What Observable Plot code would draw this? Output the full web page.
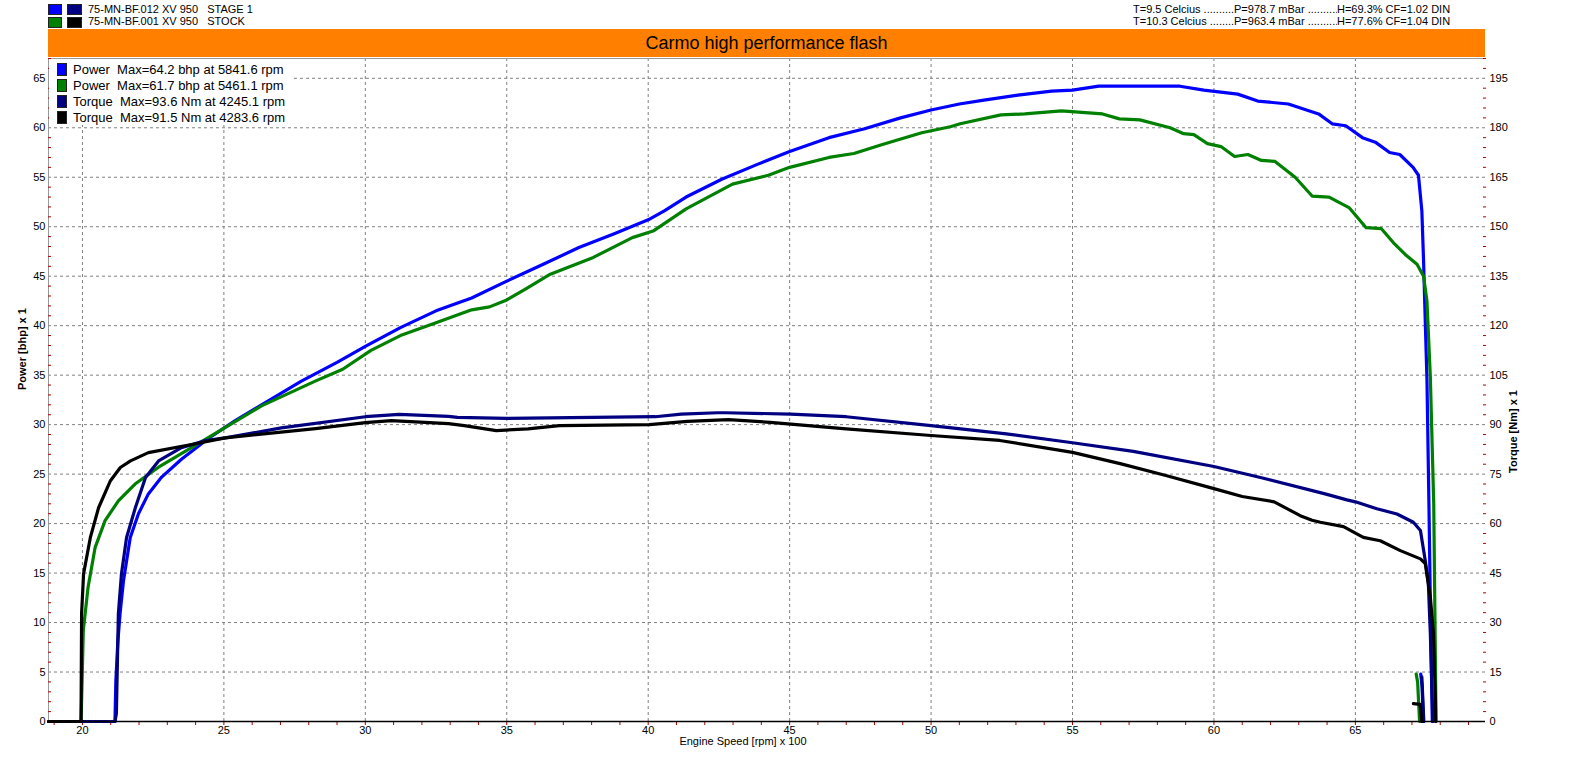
<!DOCTYPE html>
<html>
<head>
<meta charset="utf-8">
<script src="https://cdn.jsdelivr.net/npm/d3@7"></script>
<script src="https://cdn.jsdelivr.net/npm/@observablehq/plot@0.6"></script>
<style>
  html, body { margin: 0; padding: 0; background: #fff; }
  body { width: 1580px; height: 768px; position: relative; overflow: hidden; font-family: "Liberation Sans", Arial, sans-serif; }
  .abs { position: absolute; white-space: pre; color: #000; }
  .sq { position: absolute; box-sizing: border-box; border: 1px solid #222; }
  #chart { position: absolute; left: 0; top: 0; }
</style>
</head>
<body>
<div id="chart"></div>
<div id="overlay"></div>
<script>
// ---------- data (engine speed in rpm x 100) ----------
const rpmStagePower = [18.8, 21.15, 21.18, 21.25, 21.33, 21.45, 21.69, 21.98, 22.33, 22.8, 23.5, 24.45, 25.4, 26.57, 27.74, 29.0, 30.0, 31.24, 32.5, 33.76, 35.0, 36.29, 37.55, 38.8, 40.0, 40.57, 41.34, 42.6, 43.86, 45.0, 46.39, 47.65, 48.92, 50.0, 51.0, 51.87, 53.07, 54.26, 55.0, 55.93, 57.85, 58.8, 59.64, 60.84, 61.55, 62.63, 63.7, 64.18, 64.66, 65.25, 65.73, 66.21, 66.57, 67.04, 67.23, 67.35, 67.41, 67.47, 67.53, 67.6, 67.66, 67.72];
const stagePower    = [0, 0, 4, 8, 10.9, 14.2, 18.6, 21.0, 23.0, 24.7, 26.5, 28.6, 30.4, 32.4, 34.4, 36.3, 37.9, 39.8, 41.5, 42.8, 44.5, 46.2, 47.9, 49.3, 50.7, 51.6, 53.0, 54.8, 56.3, 57.6, 59.0, 59.9, 61.0, 61.8, 62.4, 62.8, 63.3, 63.7, 63.8, 64.2, 64.2, 64.2, 63.8, 63.4, 62.7, 62.4, 61.4, 60.4, 60.2, 59.0, 58.5, 57.5, 57.3, 56.0, 55.2, 51.6, 46.6, 40.5, 34.6, 22, 10, 0];

const rpmStockPower = [18.8, 19.95, 19.97, 20.03, 20.2, 20.45, 20.8, 21.27, 21.86, 22.69, 23.75, 25.04, 26.33, 28.23, 29.2, 30.2, 31.24, 32.5, 33.76, 34.39, 35.0, 35.66, 36.54, 38.06, 39.44, 40.2, 41.34, 42.98, 44.25, 45.0, 46.39, 47.27, 48.28, 49.67, 50.68, 51.03, 52.47, 53.31, 54.61, 56.06, 56.66, 57.38, 58.45, 58.93, 59.29, 59.77, 60.25, 60.73, 61.2, 61.68, 62.16, 62.87, 63.47, 64.07, 64.79, 65.38, 65.92, 66.34, 66.76, 67.18, 67.41, 67.53, 67.65, 67.77, 67.83, 67.85];
const stockPower    = [0, 0, 2.1, 9.2, 13.6, 17.6, 20.3, 22.3, 24.0, 25.7, 27.5, 29.7, 31.9, 34.4, 35.6, 37.5, 39.0, 40.3, 41.6, 41.9, 42.6, 43.7, 45.2, 46.9, 48.9, 49.6, 51.8, 54.3, 55.2, 56.0, 57.0, 57.4, 58.3, 59.5, 60.1, 60.4, 61.3, 61.4, 61.7, 61.4, 60.9, 60.8, 60.0, 59.4, 59.3, 58.4, 58.1, 57.1, 57.3, 56.7, 56.6, 55.0, 53.1, 53.0, 51.9, 49.9, 49.8, 48.4, 47.2, 46.2, 45.0, 42.5, 34.8, 22, 6, 0];

const rpmStageTorque = [18.8, 21.15, 21.2, 21.27, 21.38, 21.56, 21.87, 22.23, 22.69, 23.5, 24.35, 25.05, 27.03, 30.0, 31.2, 32.94, 33.26, 35.0, 40.25, 41.17, 42.45, 42.73, 45.03, 47.0, 50.0, 52.66, 55.0, 57.15, 60.0, 61.68, 63.93, 64.7, 65.0, 65.76, 66.47, 67.05, 67.3, 67.47, 67.58, 67.65, 67.7, 67.74];
const stageTorque    = [0, 0, 2.4, 32.7, 44.8, 55.8, 64.8, 74, 79, 83, 85.2, 86, 89, 92.4, 93.1, 92.5, 92.2, 91.9, 92.4, 93.2, 93.6, 93.6, 93.2, 92.4, 89.7, 87.2, 84.5, 81.9, 77.3, 73.9, 69, 67.2, 66.6, 64.5, 62.9, 60.4, 57.9, 48.8, 41.8, 26.7, 11.5, 0];

const rpmStockTorque = [18.8, 19.95, 19.97, 20.04, 20.28, 20.57, 20.99, 21.34, 21.7, 22.33, 24.0, 25.05, 28.24, 30.0, 30.92, 32.94, 33.5, 34.63, 35.75, 36.86, 40.04, 41.39, 42.84, 44.32, 47.0, 50.0, 52.43, 55.0, 56.72, 58.3, 60.0, 61.0, 62.13, 63.05, 63.47, 63.76, 64.58, 65.28, 65.88, 66.59, 67.3, 67.47, 67.65, 67.76, 67.83, 67.84];
const stockTorque    = [0, 0, 32.7, 44.8, 55.8, 64.8, 73, 77, 79, 81.5, 84.2, 86, 88.8, 90.6, 91.2, 90.3, 89.7, 88.2, 88.7, 89.7, 90.0, 91.0, 91.5, 90.7, 88.7, 86.7, 85.2, 81.6, 78.1, 74.6, 70.6, 68.2, 66.6, 62.4, 61.0, 60.4, 59.1, 55.8, 54.8, 51.8, 49.3, 47.9, 37.7, 26.7, 6.4, 0];

// small run-down tails near 6700 rpm
const rpmStockPowerTail = [67.15, 67.2, 67.27];
const stockPowerTail    = [4.8, 4.0, 0];
const rpmStagePowerTail = [67.31, 67.36, 67.4];
const stagePowerTail    = [4.8, 3.5, 0];
const rpmStageTorqueTail = [67.35, 67.42];
const stageTorqueTail    = [13.5, 0];
const rpmStockTorqueTail = [67.05, 67.29, 67.35];
const stockTorqueTail    = [5.4, 5.2, 0];

// axis ticks
const rpmTicks = [20, 25, 30, 35, 40, 45, 50, 55, 60, 65];
const rpmMinorTicks = d3.range(19, 70);
const powerTicks = [0, 5, 10, 15, 20, 25, 30, 35, 40, 45, 50, 55, 60, 65];
const powerMinorTicks = d3.range(1, 68).filter(d => d % 5 !== 0);
const torqueTicks = [0, 15, 30, 45, 60, 75, 90, 105, 120, 135, 150, 165, 180, 195];

// texts
const runs = [
  {file: "75-MN-BF.012 XV 950   STAGE 1", c1: "#0000ff", c2: "#000080",
   cond: ["T=9.5 Celcius ..........", "P=978.7 mBar ..........", "H=69.3% CF=1.02 DIN"]},
  {file: "75-MN-BF.001 XV 950   STOCK", c1: "#008000", c2: "#000000",
   cond: ["T=10.3 Celcius ........", "P=963.4 mBar ..........", "H=77.6% CF=1.04 DIN"]}
];
const legendRows = [
  {color: "#0000ff", text: "Power  Max=64.2 bhp at 5841.6 rpm"},
  {color: "#008000", text: "Power  Max=61.7 bhp at 5461.1 rpm"},
  {color: "#000080", text: "Torque  Max=93.6 Nm at 4245.1 rpm"},
  {color: "#000000", text: "Torque  Max=91.5 Nm at 4283.6 rpm"}
];
const title = "Carmo high performance flash";

// ---------- build ----------
const pts = (xs, ys) => xs.map((x, i) => ({rpm: x, val: ys[i]}));
const P = v => v;          // power on left scale
const T = v => v / 3;      // torque 0..195 Nm shares the 0..65 bhp scale

const grid = {stroke: "#808080", strokeOpacity: 1, strokeDasharray: "3,3", strokeWidth: 1};
const lw = 3.2;
const line = (data, color, f) => Plot.line(data, {x: "rpm", y: d => f(d.val), stroke: color, strokeWidth: lw, strokeLinejoin: "round"});

const chart = Plot.plot({
  width: 1580,
  height: 768,
  marginLeft: 48,
  marginRight: 95,
  marginTop: 58,
  marginBottom: 47,
  x: {domain: [18.8, 69.6]},
  y: {domain: [0, 67]},
  style: {fontFamily: "'Liberation Sans', Arial, sans-serif", fontSize: "11px", background: "transparent", color: "#000"},
  marks: [
    Plot.gridX(rpmTicks, grid),
    Plot.gridY(powerTicks.filter(d => d > 0), grid),
    Plot.frame({anchor: "left", stroke: "#9a9a9a"}),
    Plot.frame({anchor: "top", stroke: "#9a9a9a"}),
    // bottom axis
    Plot.axisX(rpmMinorTicks, {anchor: "bottom", tickSize: 4, stroke: "#b00000", tickFormat: () => "", label: null}),
    Plot.axisX(rpmTicks, {anchor: "bottom", tickSize: 0, tickPadding: 5, tickFormat: d => d, label: null, fontSize: 11}),
    // left axis
    Plot.axisY(powerMinorTicks, {anchor: "left", tickSize: -3, stroke: "#b00000", tickFormat: () => "", label: null}),
    Plot.axisY(powerTicks, {anchor: "left", tickSize: 0, tickPadding: 3, tickFormat: d => d, label: null, fontSize: 11}),
    // right axis (torque)
    Plot.axisY(powerMinorTicks, {anchor: "right", tickSize: -3, stroke: "#b00000", tickFormat: () => "", label: null}),
    Plot.axisY(torqueTicks.map(T), {anchor: "right", tickSize: 0, tickPadding: 4, tickFormat: d => Math.round(d * 3), label: null, fontSize: 11}),
    // axis titles
    Plot.text(["Engine Speed [rpm] x 100"], {frameAnchor: "bottom", dx: -24, dy: 23, fontSize: 11}),
    Plot.text(["Power [bhp] x 1"], {frameAnchor: "left", dx: -26, rotate: -90, fontSize: 11, fontWeight: "bold"}),
    Plot.text(["Torque [Nm] x 1"], {frameAnchor: "right", dx: 28, rotate: -90, fontSize: 11, fontWeight: "bold"}),
    // curves
    line(pts(rpmStagePower, stagePower), "#0000ff", P),
    line(pts(rpmStagePowerTail, stagePowerTail), "#0000ff", P),
    line(pts(rpmStockPower, stockPower), "#008000", P),
    line(pts(rpmStockPowerTail, stockPowerTail), "#008000", P),
    line(pts(rpmStageTorque, stageTorque), "#000080", T),
    line(pts(rpmStageTorqueTail, stageTorqueTail), "#000080", T),
    line(pts(rpmStockTorque, stockTorque), "#000000", T),
    line(pts(rpmStockTorqueTail, stockTorqueTail), "#000000", T),
    Plot.ruleY([0], {stroke: "#000", strokeWidth: 1.5})
  ]
});
document.getElementById("chart").appendChild(chart);

// ---------- header & legend overlays ----------
const ov = document.getElementById("overlay");
function el(tag, cls, style, text) {
  const e = document.createElement(tag);
  if (cls) e.className = cls;
  Object.assign(e.style, style);
  if (text != null) e.textContent = text;
  ov.appendChild(e);
  return e;
}
runs.forEach((r, i) => {
  const top = 4 + i * 12.7;
  el("div", "sq", {left: "48px", top: top + "px", width: "14px", height: "11px", background: r.c1});
  el("div", "sq", {left: "67px", top: top + "px", width: "15px", height: "11px", background: r.c2});
  el("div", "abs", {left: "88px", top: (top - 1.5) + "px", fontSize: "11px", lineHeight: "13px"}, r.file);
  const xs = [1133, 1234, 1337];
  r.cond.forEach((t, j) => {
    el("div", "abs", {left: xs[j] + "px", top: (top - 1.5) + "px", fontSize: "11px", lineHeight: "13px", width: (j < 2 ? (xs[j + 1] - xs[j]) : 130) + "px", overflow: "hidden"}, t);
  });
});
el("div", "abs", {left: "48px", top: "29px", width: "1437px", height: "28px", background: "#ff8000", textAlign: "center", fontSize: "18px", lineHeight: "28px"}, title);
el("div", "abs", {left: "49px", top: "59px", width: "242px", height: "66px", background: "#fff"});
legendRows.forEach((r, i) => {
  const top = 63 + i * 16;
  el("div", "sq", {left: "57px", top: top + "px", width: "10px", height: "13px", background: r.color});
  el("div", "abs", {left: "73px", top: (top - 1) + "px", fontSize: "13px", lineHeight: "15px"}, r.text);
});
</script>
</body>
</html>
